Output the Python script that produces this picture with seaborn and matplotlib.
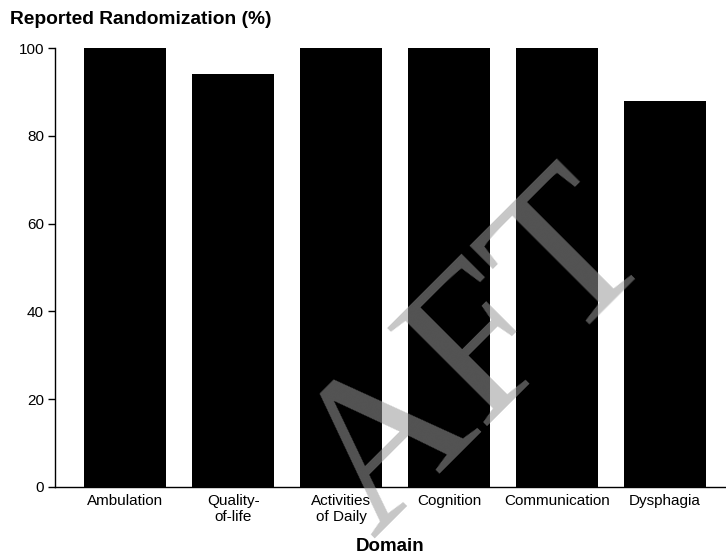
import matplotlib
matplotlib.use("Agg")
import matplotlib.pyplot as plt
import seaborn as sns
import pandas as pd

dominios = ["Ambulation", "Quality-\nof-life", "Activities\nof Daily", "Cognition", "Communication", "Dysphagia"]
porcentajes = [100, 94, 100, 100, 100, 88]

sns.set_style("ticks")
plt.rcParams['font.family'] = ['Liberation Sans', 'DejaVu Sans']
plt.rcParams['text.color'] = 'black'
plt.rcParams['xtick.color'] = 'black'
plt.rcParams['ytick.color'] = 'black'
plt.rcParams['axes.labelcolor'] = 'black'
plt.rcParams['axes.edgecolor'] = 'black'

datos = pd.DataFrame({"Domain": dominios, "Pct": porcentajes})

fig = plt.figure(figsize=(7.26, 5.56), dpi=100)
ax = fig.add_axes([55 / 726, 1 - 487 / 556, 1 - 55 / 726, 439 / 556])
sns.barplot(data=datos, x="Domain", y="Pct", color="black", width=0.76,
            saturation=1, ax=ax, edgecolor="none")
ax.set_xlim(-0.653, 5.565)
ax.set_ylim(0, 100)
ax.set_yticks([0, 20, 40, 60, 80, 100])
ax.tick_params(axis="y", length=5, width=1, labelsize=11, pad=3)
ax.tick_params(axis="x", length=0, labelsize=11, pad=5)
ax.set_ylabel("")
ax.set_xlabel("Domain", fontsize=13.5, fontweight="bold", labelpad=10)
for s in ["top", "right"]:
    ax.spines[s].set_visible(False)
ax.spines["left"].set_linewidth(1)
ax.spines["bottom"].set_linewidth(1)

fig.text(10 / 726, 1 - 19 / 556, "Reported Randomization (%)", fontsize=13.8,
         fontweight="bold", ha="left", va="center")

# marca de agua
fig.text(480 / 726, 1 - 360 / 556, "AFT", fontsize=154, family="Liberation Serif",
         rotation=45, ha="center", va="center", color="0.6", alpha=0.55)

fig.savefig("out.png", dpi=100)
